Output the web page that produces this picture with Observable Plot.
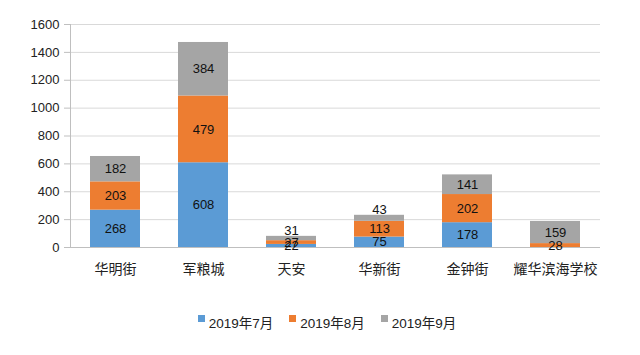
<!DOCTYPE html>
<html><head><meta charset="utf-8">
<script src="https://cdn.jsdelivr.net/npm/d3@7"></script>
<script src="https://cdn.jsdelivr.net/npm/@observablehq/plot@0.6"></script>
<style>
body{margin:0;background:#fff;font-family:"Liberation Sans","Noto Sans CJK SC",sans-serif;}
#legend{display:flex;justify-content:center;gap:16px;font-size:13.5px;color:#222;padding-top:17px;margin-left:14px;}
#legend span{display:inline-flex;align-items:center;}
#legend i{display:inline-block;width:7px;height:7px;margin-right:4px;position:relative;top:-4px;}
</style></head>
<body>
<div id="chart"></div>
<div id="legend"></div>
<script>
const categories = ["华明街","军粮城","天安","华新街","金钟街","耀华滨海学校"];
const seriesNames = ["2019年7月","2019年8月","2019年9月"];
const jul = [268, 608, 22, 75, 178, 0];
const aug = [203, 479, 27, 113, 202, 28];
const sep = [182, 384, 31, 43, 141, 159];
const colors = ["#5b9bd5","#ed7d31","#a5a5a5"];
const yTicks = [0,200,400,600,800,1000,1200,1400,1600];

const seriesValues = [jul, aug, sep];
const data = [];
seriesNames.forEach((s, si) => categories.forEach((c, ci) => data.push({cat: c, series: s, value: seriesValues[si][ci], top: si === 2})));

const yMax = 1600, plotH = 295 - 24 - 48;
const small = d => d.top && d.value / yMax * plotH < 12;
const base = {x: "cat", y: "value", z: "series", fontSize: 13, fill: "#111"};

const plot = Plot.plot({
  width: 640, height: 295,
  marginLeft: 70, marginRight: 40, marginTop: 24, marginBottom: 48,
  style: {fontFamily: '"Liberation Sans","Noto Sans CJK SC",sans-serif', color: "#222"},
  x: {domain: categories, paddingInner: 0.43, paddingOuter: 0.215, label: null},
  y: {domain: [0, yMax], label: null},
  color: {domain: seriesNames, range: colors},
  marks: [
    Plot.gridY(yTicks, {stroke: "#d9d9d9", strokeOpacity: 1}),
    Plot.axisY(yTicks, {tickSize: 6, tickPadding: 5, fontSize: 13, stroke: "#bfbfbf", tickFormat: d => String(d), label: null}),
    Plot.axisX({tickSize: 0, tickPadding: 17, fontSize: 14, label: null}),
    Plot.barY(data, Plot.stackY({x: "cat", y: "value", z: "series", fill: "series"})),
    Plot.ruleY([0], {stroke: "#bfbfbf"}),
    Plot.frame({anchor: "left", stroke: "#bfbfbf"}),
    Plot.text(data, Plot.stackY({...base, text: d => (d.value > 0 && !small(d)) ? String(d.value) : null})),
    Plot.text(data, Plot.stackY2({...base, text: d => small(d) ? String(d.value) : null, lineAnchor: "bottom", dy: -1}))
  ]
});
document.getElementById("chart").appendChild(plot);

const legend = document.getElementById("legend");
seriesNames.forEach((s, i) => {
  const span = document.createElement("span");
  const sw = document.createElement("i");
  sw.style.background = colors[i];
  span.appendChild(sw);
  span.appendChild(document.createTextNode(s));
  legend.appendChild(span);
});
</script>
</body></html>
